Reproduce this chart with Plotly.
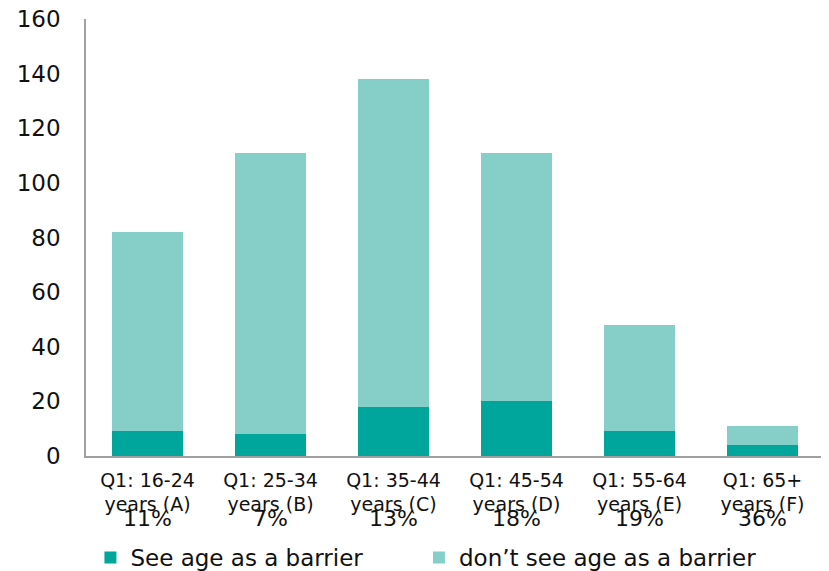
import plotly.graph_objects as go

categories = ["Q1: 16-24<br>years (A)", "Q1: 25-34<br>years (B)", "Q1: 35-44<br>years (C)",
              "Q1: 45-54<br>years (D)", "Q1: 55-64<br>years (E)", "Q1: 65+<br>years (F)"]
see_barrier = [9, 8, 18, 20, 9, 4]
dont_see_barrier = [73, 103, 120, 91, 39, 7]
pct_labels = ["11%", "7%", "13%", "18%", "19%", "36%"]

dark = "#00A59C"
light = "#86CFC9"
font_family = "DejaVu Sans, Verdana, sans-serif"
pad = "\u00a0" * 7

fig = go.Figure()
fig.add_trace(go.Bar(x=categories, y=see_barrier, name="See age as a barrier" + pad,
                     marker=dict(color=dark, line=dict(width=0))))
fig.add_trace(go.Bar(x=categories, y=dont_see_barrier, name="don\u2019t see age as a barrier",
                     marker=dict(color=light, line=dict(width=0))))

for cat, lab in zip(categories, pct_labels):
    fig.add_annotation(x=cat, y=-0.142, xref="x", yref="paper", text=lab, showarrow=False,
                       yanchor="middle", font=dict(size=22, color="#111111", family=font_family))

fig.update_layout(
    barmode="stack",
    bargap=0.43,
    width=821, height=563,
    margin=dict(l=78, r=5, t=11, b=115, autoexpand=False),
    plot_bgcolor="white", paper_bgcolor="white",
    font=dict(family=font_family, color="#111111"),
    showlegend=True,
    legend=dict(orientation="h", x=0.006, y=-0.183, xanchor="left", yanchor="top",
                font=dict(size=23, color="#111111"), traceorder="normal"),
    xaxis=dict(showline=True, linecolor="#A0A0A0", linewidth=1.5, ticks="", automargin=False,
               ticklabelstandoff=6, ticklabeloverflow="allow",
               tickfont=dict(size=19, color="#111111"), showgrid=False),
    yaxis=dict(range=[0, 160], tickvals=[0, 20, 40, 60, 80, 100, 120, 140, 160],
               showline=True, linecolor="#A0A0A0", linewidth=1.5, showgrid=False,
               zeroline=False, ticks="", ticklabelstandoff=19, automargin=False,
               ticklabeloverflow="allow",
               tickfont=dict(size=23, color="#111111")),
)

fig.write_html("out.html")
